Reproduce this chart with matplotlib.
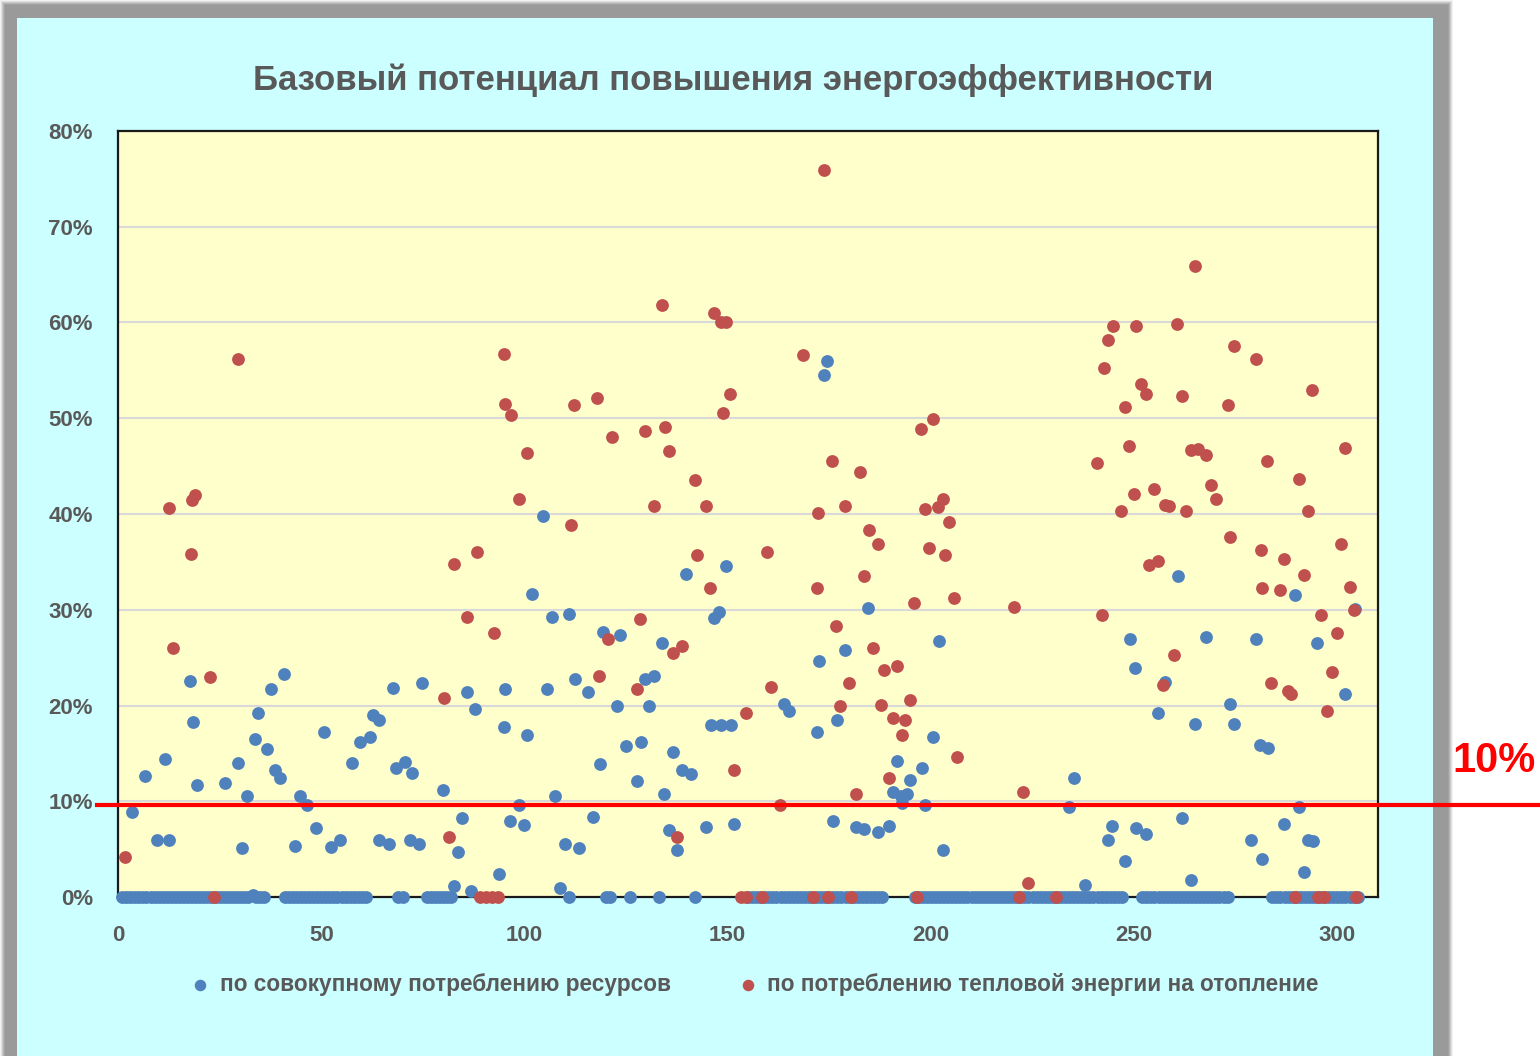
import numpy as np
import matplotlib
matplotlib.use('Agg')
import matplotlib.pyplot as plt
from matplotlib.patches import Rectangle
from matplotlib.lines import Line2D
from matplotlib.ticker import FuncFormatter

# ---- data, values in percent ----
blue_x = [3.4, 6.7, 9.7, 11.6, 12.6, 17.7, 18.4, 19.4, 26.4, 29.6, 30.6, 31.7, 33.3, 33.7,
          34.4, 36.6, 37.6, 38.7, 39.9, 40.9, 43.6, 44.7, 46.6, 48.8, 50.6, 52.5, 54.7,
          57.5, 59.5, 61.9, 62.7, 64.1, 64.1, 66.6, 67.6, 68.5, 70.7, 71.9, 72.3, 74.0,
          74.7, 79.9, 82.6, 83.7, 84.6, 85.9, 86.9, 87.9, 93.7, 94.9, 95.3, 96.4, 98.6,
          99.8, 100.6, 101.9, 104.6, 105.6, 106.7, 107.6, 108.7, 109.9, 110.9, 112.4,
          113.5, 115.7, 116.8, 118.5, 119.4, 122.7, 123.6, 124.9, 127.6, 128.6, 129.6,
          130.7, 131.9, 133.9, 134.3, 135.5, 136.6, 137.6, 138.8, 139.8, 140.9, 144.6,
          145.8, 146.6, 147.9, 148.3, 149.5, 150.7, 151.6, 163.9, 165.1, 171.9, 172.5,
          173.6, 174.5, 175.8, 176.8, 178.9, 181.5, 183.6, 184.6, 186.9, 189.7, 190.6,
          191.6, 192.6, 192.9, 194.2, 194.9, 197.7, 198.6, 200.6, 201.9, 202.9, 234.0,
          235.2, 237.8, 243.5, 244.5, 247.8, 249.0, 250.1, 250.5, 253.0, 255.8, 257.7,
          260.8, 261.8, 264.0, 264.9, 267.6, 273.5, 274.5, 278.8, 280.0, 280.9, 281.4,
          282.9, 286.9, 289.7, 290.6, 291.8, 292.8, 294.0, 294.9, 301.8, 304.3]
blue_y = [8.9, 12.6, 6.0, 14.4, 6.0, 22.6, 18.3, 11.7, 11.9, 14.0, 5.1, 10.6, 0.2, 16.5,
          19.2, 15.5, 21.7, 13.3, 12.4, 23.3, 5.3, 10.5, 9.6, 7.2, 17.2, 5.2, 6.0,
          14.0, 16.2, 16.7, 19.0, 18.5, 6.0, 5.5, 21.8, 13.5, 14.1, 6.0, 13.0, 5.5,
          22.4, 11.2, 1.1, 4.7, 8.3, 21.4, 0.6, 19.6, 2.4, 17.8, 21.7, 7.9, 9.6,
          7.5, 16.9, 31.6, 39.8, 21.7, 29.2, 10.6, 0.9, 5.5, 29.6, 22.8,
          5.1, 21.4, 8.4, 13.9, 27.7, 20.0, 27.4, 15.8, 12.1, 16.2, 22.8,
          19.9, 23.1, 26.5, 10.8, 7.0, 15.1, 4.9, 13.3, 33.7, 12.8, 7.3,
          18.0, 29.1, 29.8, 18.0, 34.6, 18.0, 7.6, 20.2, 19.4, 17.2, 24.6,
          54.5, 56.0, 7.9, 18.5, 25.8, 7.3, 7.1, 30.2, 6.8, 7.4, 11.0,
          14.2, 10.5, 9.8, 10.8, 12.2, 13.5, 9.6, 16.7, 26.7, 4.9, 9.4,
          12.4, 1.3, 6.0, 7.4, 3.8, 26.9, 23.9, 7.2, 6.6, 19.2, 22.5,
          33.5, 8.3, 1.8, 18.1, 27.2, 20.2, 18.1, 6.0, 26.9, 15.9, 4.0,
          15.6, 7.6, 31.5, 9.4, 2.6, 6.0, 5.8, 26.5, 21.2, 30.1]

# objects where the total-resource saving is zero
blue_zero_x = [1, 2, 3, 4, 5, 6, 7, 8, 9, 10, 11, 12, 13, 14, 15, 16, 17, 18, 19, 20,
               21, 22, 23, 24, 25, 26, 27, 28, 29, 30, 31, 32, 34, 35, 36,
               41, 42, 43, 44, 45, 46, 47, 48, 49, 50, 51, 52, 53, 54, 55, 56, 57, 58,
               59, 60, 61, 69, 70, 76, 77, 78, 79, 80, 81, 82,
               111, 120, 121, 126, 133, 142,
               155, 156, 157, 158, 159, 160, 161, 162, 163, 164, 165, 166, 167, 168,
               169, 170, 171, 172, 173, 174, 175, 176, 177, 178, 179, 180, 181, 182,
               183, 184, 185, 186, 187, 188,
               196, 197, 198, 199, 200, 201, 202, 203, 204, 205, 206, 207, 208, 209,
               210, 211, 212, 213, 214, 215, 216, 217, 218, 219, 220, 221, 222, 223,
               224, 225, 226, 227, 228, 229, 230, 231, 232, 233, 234, 235, 236, 237,
               238, 239, 240, 241, 242, 243, 244, 245, 246, 247,
               252, 253, 254, 255, 256, 257, 258, 259, 260, 261, 262, 263, 264, 265,
               266, 267, 268, 269, 270, 271, 272, 273,
               284, 285, 286, 287, 288, 289, 290, 291, 292, 293, 294, 295, 296, 297,
               298, 299, 300, 301, 302, 303, 304, 305]

red_x = [1.7, 12.5, 13.6, 17.9, 18.1, 19.0, 22.7, 23.6, 29.6,
         80.3, 81.5, 82.6, 85.9, 88.3, 89.0, 90.5, 92.0, 93.5, 92.6, 94.9, 95.3, 96.6,
         98.6, 100.6,
         111.5, 112.3, 117.9, 118.3, 120.5, 121.6, 127.6, 128.5, 129.6, 131.8, 133.9,
         134.5, 135.5, 136.6, 137.6, 138.8, 141.9, 142.4, 144.6, 145.6, 146.6, 148.3,
         149.5, 148.8, 150.6, 151.6, 153.2, 154.4, 154.6, 158.5, 159.6, 160.6, 162.8,
         168.6, 170.9, 171.9, 172.3, 173.6, 174.7, 175.6, 176.6, 177.7, 178.8, 179.9,
         180.4, 181.5, 182.6, 183.6, 184.8, 185.8, 186.9, 187.8, 188.5, 189.6, 190.6,
         191.6, 192.8, 193.7, 194.9, 195.9, 196.5, 197.5, 198.6, 199.6, 200.6, 201.8,
         202.9, 203.4, 204.5, 205.6, 206.5,
         220.5, 221.7, 222.6, 223.8, 230.8,
         240.9, 242.0, 242.5, 243.5, 244.7, 246.8, 247.8, 248.8, 250.0, 250.5, 251.6,
         252.8, 253.6, 254.8, 255.8, 257.0, 257.7, 258.7, 259.7, 260.6, 261.8, 262.8,
         263.9, 265.0, 265.7, 267.6, 268.8, 270.2, 273.1, 273.5, 274.5, 280.0, 281.1,
         281.4, 282.7, 283.6, 285.8, 286.9, 287.8, 288.7, 289.5, 290.6, 291.8, 292.8,
         293.8, 295.2, 296.0, 296.8, 297.5, 298.7, 299.8, 300.8, 301.8, 303.0, 304.1,
         304.7]
red_y = [4.2, 40.6, 26.0, 35.8, 41.5, 42.0, 23.0, 0.0, 56.2,
         20.8, 6.3, 34.8, 29.2, 36.0, 0.0, 0.0, 0.0, 0.0, 27.6, 56.7, 51.5, 50.3,
         41.6, 46.4,
         38.9, 51.4, 52.1, 23.1, 26.9, 48.0, 21.7, 29.0, 48.7, 40.8, 61.8,
         49.1, 46.6, 25.5, 6.3, 26.2, 43.6, 35.7, 40.8, 32.3, 61.0, 60.1,
         60.1, 50.5, 52.5, 13.3, 0.0, 0.0, 19.2, 0.0, 36.0, 21.9, 9.6,
         56.6, 0.0, 32.3, 40.1, 75.9, 0.0, 45.5, 28.3, 19.9, 40.8, 22.3,
         0.0, 10.8, 44.4, 33.5, 38.3, 26.0, 36.9, 20.1, 23.7, 12.4, 18.7,
         24.1, 16.9, 18.5, 20.6, 30.7, 0.0, 48.9, 40.5, 36.4, 49.9, 40.7,
         41.6, 35.7, 39.2, 31.2, 14.6,
         30.3, 0.0, 11.0, 1.5, 0.0,
         45.3, 29.5, 55.3, 58.2, 59.6, 40.3, 51.2, 47.1, 42.1, 59.6, 53.6,
         52.5, 34.7, 42.6, 35.1, 22.1, 40.9, 40.8, 25.3, 59.8, 52.3, 40.3,
         46.7, 65.9, 46.8, 46.2, 43.0, 41.6, 51.4, 37.6, 57.5, 56.2, 36.2,
         32.3, 45.5, 22.4, 32.1, 35.3, 21.5, 21.2, 0.0, 43.7, 33.6, 40.3,
         53.0, 0.0, 29.5, 0.0, 19.4, 23.5, 27.6, 36.9, 46.9, 32.4, 30.0,
         0.0]

threshold = 9.6   # the red marker line, drawn slightly under the 10% grid line

title = 'Базовый потенциал повышения энергоэффективности'
label_blue = 'по совокупному потреблению ресурсов'
label_red = 'по потреблению тепловой энергии на отопление'

blue_c = '#4F81BD'
red_c = '#C0504D'
text_c = '#595959'
fonts = ['Liberation Sans', 'DejaVu Sans']

W, H = 1540, 1056
fig = plt.figure(figsize=(W / 100, H / 100), dpi=100, facecolor='white')

# chart box with a soft gray shadow
for i, a in enumerate([0.12, 0.2, 0.3, 0.45, 0.65, 1.0]):
    g = 6 - i
    fig.patches.append(Rectangle(((6 - g) / W, 0), (1441 + 2 * g) / W, (H - 6 + g) / H,
                                 transform=fig.transFigure, facecolor='#9A9A9A',
                                 alpha=a, edgecolor='none', zorder=-10))
fig.patches.append(Rectangle((17 / W, 0), (1433 - 17) / W, (H - 18) / H,
                             transform=fig.transFigure, facecolor='#CCFFFF',
                             edgecolor='none', zorder=-5))

ax = fig.add_axes([118 / W, 1 - 897 / H, (1378 - 118) / W, (897 - 131) / H])
ax.set_facecolor('#FFFFCC')
ax.set_xlim(0, 310)
ax.set_ylim(0, 80)

ax.scatter(blue_zero_x, [0] * len(blue_zero_x), s=85, color=blue_c, linewidths=0, zorder=3,
           clip_on=False)
ax.scatter(blue_x, blue_y, s=85, color=blue_c, linewidths=0, zorder=3, clip_on=False,
           label=label_blue)
ax.scatter(red_x, red_y, s=85, color=red_c, linewidths=0, zorder=4, clip_on=False,
           label=label_red)

ax.set_yticks(np.arange(0, 81, 10))
ax.set_xticks(np.arange(0, 301, 50))
ax.yaxis.set_major_formatter(FuncFormatter(lambda v, p: f'{v:.0f}%'))
ax.grid(axis='y', color='#D9D9D9', linewidth=1.5)
ax.set_axisbelow(True)
ax.tick_params(length=0, labelsize=16, labelcolor=text_c)
ax.tick_params(axis='y', pad=18)
ax.tick_params(axis='x', pad=20)
for lab in ax.get_xticklabels() + ax.get_yticklabels():
    lab.set_family(fonts)
    lab.set_fontweight('bold')
for sp in ax.spines.values():
    sp.set_linewidth(1.6)
    sp.set_color('#1A1A1A')

fig.text(733 / W, 1 - 80 / H, title, ha='center', va='center', fontsize=25,
         fontweight='bold', color=text_c, family=fonts)

leg = ax.legend(loc='center', bbox_to_anchor=(748 / W, 1 - 984 / H),
                bbox_transform=fig.transFigure, ncol=2, frameon=False,
                markerscale=0.9, handletextpad=-0.15, columnspacing=2.4,
                prop={'family': fonts, 'weight': 'bold', 'size': 16.3})
for t in leg.get_texts():
    t.set_color(text_c)

# 10 % threshold line and label
y_line = ax.transData.transform((0, threshold))[1] / H
fig.add_artist(Line2D([97 / W, 1.0], [y_line, y_line], transform=fig.transFigure,
                      color='#FF0000', linewidth=3, zorder=10))
fig.text(1494 / W, 1 - 761 / H, '10%', ha='center', va='center', fontsize=30,
         fontweight='bold', color='#FF0000', family=fonts)

fig.savefig('out.png', dpi=100, facecolor='white')
